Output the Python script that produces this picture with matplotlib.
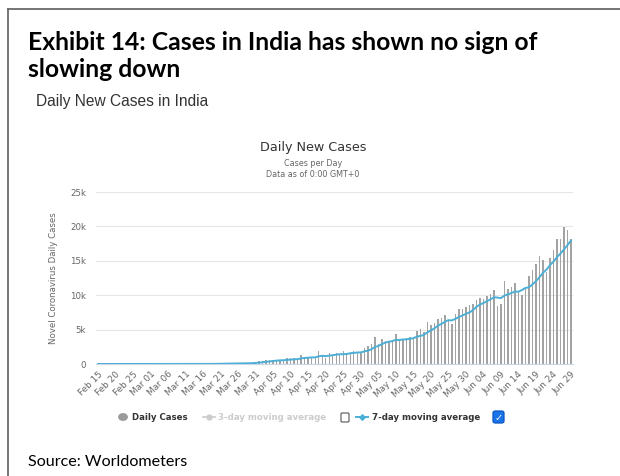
import matplotlib
matplotlib.use("Agg")

import matplotlib.pyplot as plt
import numpy as np
import pandas as pd
from matplotlib.lines import Line2D
from matplotlib.patches import Circle, FancyBboxPatch

# === DATA ===

start_date = "2020-02-15"
end_date = "2020-06-29"

feb_cases = [0] * 16  # Feb 15 .. Mar 01
mar_cases = [2, 1, 22, 2, 1, 3, 5, 9, 15, 8,
             10, 10, 12, 11, 20, 11, 34, 30, 50, 86,
             74, 103, 64, 88, 69, 151, 153, 91, 197, 309]
apr_cases = [424, 486, 560, 579, 609, 484, 573, 565, 813, 871,
             854, 758, 1243, 1031, 886, 1061, 922, 1893, 1340, 850,
             1537, 1292, 1667, 1408, 1835, 1607, 1568, 1902, 1705, 1801]
may_cases = [2396, 2564, 2952, 3900, 2971, 3602, 3344, 3339, 3175, 4311,
             3592, 3562, 3726, 3991, 3808, 4794, 5050, 4628, 6154, 5720,
             6023, 6536, 6667, 7111, 6414, 5843, 7293, 7950, 8050, 8330,
             8520]
jun_cases = [8670, 9290, 9620, 9480, 9860, 10240, 10710, 8400, 8700, 12100,
             10900, 11140, 11760, 10570, 10000, 10900, 12810, 13670, 14480, 15700,
             15100, 13300, 15350, 16550, 18100, 18150, 19950, 19450, 18100]

daily_cases = feb_cases + mar_cases + apr_cases + may_cases + jun_cases
y_ticks = [0, 5000, 10000, 15000, 20000, 25000]
y_tick_labels = ["0", "5k", "10k", "15k", "20k", "25k"]

# === BUILD SERIES ===

dates = pd.date_range(start_date, end_date, freq="D")
cases = pd.Series(daily_cases, index=dates, dtype=float)
avg_7 = cases.rolling(7, min_periods=1).mean()
x = np.arange(len(dates))
tick_idx = x[::5]
tick_labels = [d.strftime("%b %d") for d in dates[::5]]

W, H = 620, 476


def fx(px):
    return px / W


def fy(py):
    return 1 - py / H


fig = plt.figure(figsize=(W / 100, H / 100), dpi=100)

# outer frame: top and left edges only
fig.add_artist(Line2D([fx(8), fx(620)], [fy(9), fy(9)], color="#6a6a6a", lw=1.3))
fig.add_artist(Line2D([fx(8), fx(8)], [fy(9), fy(476)], color="#6a6a6a", lw=1.3))

title_font = ["Lato", "DejaVu Sans"]
fig.text(fx(28), fy(50), "Exhibit 14: Cases in India has shown no sign of",
         fontsize=17.8, fontweight="bold", family=title_font, color="black")
fig.text(fx(28), fy(77), "slowing down",
         fontsize=17.8, fontweight="bold", family=title_font, color="black")
fig.text(fx(36), fy(106), "Daily New Cases in India",
         fontsize=11.2, family="Liberation Sans", color="#333333")
fig.text(fx(28), fy(466), "Source: Worldometers",
         fontsize=11.6, family=title_font, color="black")

# chart heading
fig.text(fx(313), fy(151), "Daily New Cases", ha="center",
         fontsize=9.2, family="DejaVu Sans", color="#333333")
fig.text(fx(313), fy(166), "Cases per Day", ha="center",
         fontsize=5.8, family="DejaVu Sans", color="#666666")
fig.text(fx(313), fy(177), "Data as of 0:00 GMT+0", ha="center",
         fontsize=5.8, family="DejaVu Sans", color="#666666")

# === PLOT ===

ax = fig.add_axes([fx(96), fy(364), fx(573) - fx(96), fy(192) - fy(364)])
ax.bar(x, cases.values, width=0.42, color="#a3a3a3", zorder=2)
ax.plot(x, avg_7.values, color="#4bafd6", lw=1.4, zorder=3)

ax.set_xlim(-0.6, len(x) - 0.4)
ax.set_ylim(0, 25000)
ax.set_yticks(y_ticks)
ax.set_yticklabels(y_tick_labels)
ax.set_xticks(tick_idx)
ax.set_xticklabels(tick_labels, rotation=45, ha="right", rotation_mode="anchor")
ax.tick_params(axis="y", length=0, pad=7, labelsize=6.2, labelcolor="#666666")
ax.tick_params(axis="x", length=0, pad=4, labelsize=6.4, labelcolor="#666666")
for lab in ax.get_xticklabels() + ax.get_yticklabels():
    lab.set_family("DejaVu Sans")

ax.grid(axis="y", color="#e6e6e6", lw=0.8, zorder=0)
for side in ["top", "right", "left"]:
    ax.spines[side].set_visible(False)
ax.spines["bottom"].set_color("#ccd6eb")
ax.spines["bottom"].set_linewidth(0.8)
ax.set_ylabel("Novel Coronavirus Daily Cases", fontsize=6.2, color="#666666",
              family="DejaVu Sans", labelpad=9)

# === LEGEND ===

fig.add_artist(Circle((fx(123), fy(417)), 4.2 / W, color="#9a9a9a",
                      transform=fig.transFigure))
fig.text(fx(132), fy(417), "Daily Cases", va="center", fontsize=6.2,
         fontweight="bold", family="DejaVu Sans", color="#333333")

fig.add_artist(Line2D([fx(203), fx(215)], [fy(417), fy(417)], color="#cccccc", lw=1.2))
fig.add_artist(Line2D([fx(209)], [fy(417)], color="#cccccc", marker="o", markersize=3.5))
fig.text(fx(218), fy(417), "3-day moving average", va="center", fontsize=6.2,
         fontweight="bold", family="DejaVu Sans", color="#cccccc")

fig.add_artist(FancyBboxPatch((fx(341), fy(422)), 8 / W, 9 / H,
                              boxstyle="round,pad=0,rounding_size=0.002",
                              transform=fig.transFigure, facecolor="white",
                              edgecolor="#555555", lw=0.8))
fig.add_artist(Line2D([fx(356), fx(368)], [fy(417), fy(417)], color="#4bafd6", lw=1.4))
fig.add_artist(Line2D([fx(362)], [fy(417)], color="#4bafd6", marker="D", markersize=2.8))
fig.text(fx(372), fy(417), "7-day moving average", va="center", fontsize=6.2,
         fontweight="bold", family="DejaVu Sans", color="#333333")

fig.add_artist(FancyBboxPatch((fx(493), fy(423)), 11 / W, 12 / H,
                              boxstyle="round,pad=0,rounding_size=0.004",
                              transform=fig.transFigure, facecolor="#1a73e8",
                              edgecolor="#0b57c4", lw=0.9))
fig.text(fx(498.5), fy(417.5), "\u2713", ha="center", va="center", fontsize=7,
         fontweight="bold", family="DejaVu Sans", color="white")

fig.savefig("out.png", dpi=100)
